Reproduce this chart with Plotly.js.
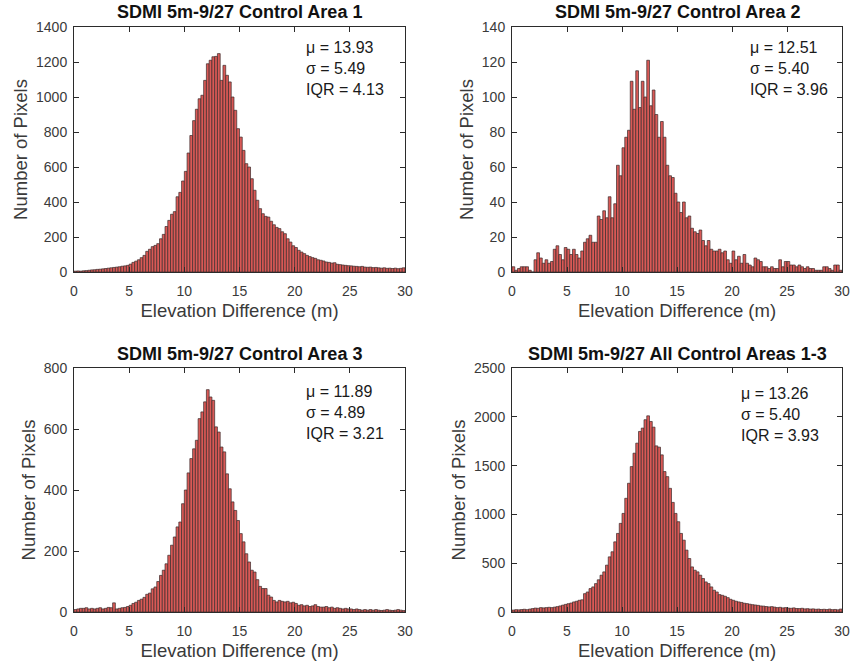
<!DOCTYPE html>
<html>
<head>
<meta charset="utf-8">
<script src="https://cdn.plot.ly/plotly-3.0.1.min.js"></script>
<style>html,body{margin:0;padding:0;background:#fff;}#chart{width:855px;height:665px;}</style>
</head>
<body>
<div id="chart"></div>
<script>
// Histogram bins: 120 bins of width 0.25 m covering 0..30 m
const BIN_START = 0;
const BIN_WIDTH = 0.25;

const area1Counts = [
  5,6,5,7,8,10,12,13,15,16,
  18,20,22,24,26,28,30,33,35,38,
  45,55,62,70,82,95,118,130,145,152,
  162,190,215,260,295,330,345,430,455,520,
  575,680,780,865,930,990,1010,1095,1190,1210,
  1230,1232,1248,1095,1181,1124,1086,1000,924,819,
  771,695,619,600,533,467,410,362,333,318,
  314,290,270,255,248,230,219,190,171,150,
  140,124,114,105,95,88,82,78,70,67,
  63,57,55,51,53,44,42,40,38,36,
  35,33,32,30,32,28,27,28,25,26,
  24,22,24,21,22,20,22,19,21,24
];

const area2Counts = [
  3,1,2,3,3,3,1,0,7,11,
  8,5,7,5,6,13,15,10,7,14,
  13,10,13,10,8,12,17,19,21,17,
  17,32,30,35,31,43,31,39,61,55,
  71,77,81,109,93,115,94,109,100,121,
  95,104,90,77,86,77,61,55,54,45,
  40,34,40,31,32,25,23,22,24,18,
  15,18,13,12,12,13,11,12,7,5,
  12,7,9,5,10,5,4,3,8,7,
  6,3,3,2,3,2,2,7,3,6,
  6,4,4,3,4,3,2,3,2,2,
  1,1,1,3,3,2,1,4,4,1
];

const area3Counts = [
  8,10,12,12,14,10,12,10,12,14,
  10,12,15,14,30,10,12,14,15,18,
  22,28,32,38,42,48,58,62,76,82,
  100,120,137,158,186,219,246,279,295,355,
  400,456,503,535,563,634,656,689,729,705,
  694,607,590,541,525,453,404,361,333,300,
  257,230,191,164,137,131,106,84,77,77,
  55,49,38,33,38,35,33,35,30,32,
  28,22,24,20,22,18,20,24,18,16,
  16,18,14,16,12,14,12,10,12,10,
  10,8,10,8,6,8,6,8,6,8,
  6,5,6,8,6,5,6,8,6,5
];

const areaAllCounts = [
  20,24,22,25,28,24,30,35,40,38,
  45,42,45,48,45,50,55,62,70,78,
  85,92,103,110,120,125,188,205,240,257,
  291,330,377,411,480,565,617,719,805,908,
  1010,1165,1319,1490,1627,1730,1850,1884,1970,2010,
  1952,1894,1702,1689,1610,1439,1387,1267,1123,1010,
  925,805,736,634,548,462,428,411,377,343,
  308,291,257,223,205,178,171,161,147,130,
  120,110,103,98,90,86,80,75,72,68,
  62,60,56,52,55,50,45,48,42,45,
  40,38,42,36,35,38,32,34,30,32,
  28,30,26,28,25,30,24,26,22,30
];

const panelTitles = [
  'SDMI 5m-9/27 Control Area 1',
  'SDMI 5m-9/27 Control Area 2',
  'SDMI 5m-9/27 Control Area 3',
  'SDMI 5m-9/27 All Control Areas 1-3'
];
const statMean  = ['13.93', '12.51', '11.89', '13.26'];
const statSigma = ['5.49', '5.40', '4.89', '5.40'];
const statIQR   = ['4.13', '3.96', '3.21', '3.93'];

const xTickVals = [0, 5, 10, 15, 20, 25, 30];
const yTicks1 = [0, 200, 400, 600, 800, 1000, 1200, 1400];
const yTicks2 = [0, 20, 40, 60, 80, 100, 120, 140];
const yTicks3 = [0, 200, 400, 600, 800];
const yTicks4 = [0, 500, 1000, 1500, 2000, 2500];
const yRanges = [[0, 1400], [0, 140], [0, 800], [0, 2500]];

const xLabel = 'Elevation Difference (m)';
const yLabel = 'Number of Pixels';

const FONT = 'Liberation Sans, Arial, Helvetica, sans-serif';
const INK = '#2b2b2b';
const TICKINK = '#3a3a3a';

const countsList = [area1Counts, area2Counts, area3Counts, areaAllCounts];
const yTicksList = [yTicks1, yTicks2, yTicks3, yTicks4];

// Panel placement (paper fractions)
const W = 855, H = 665;
const xDomains = [[74 / W, 405 / W], [512 / W, 842 / W], [74 / W, 405 / W], [512 / W, 842 / W]];
const yDomains = [[1 - 272 / H, 1 - 27 / H], [1 - 272 / H, 1 - 27 / H], [1 - 612 / H, 1 - 368 / H], [1 - 612 / H, 1 - 368 / H]];
const statsPos = [[304, 37], [748, 37], [304, 381], [739, 383]];
const titleY = [12, 12, 354, 354];

const traces = [];
const layout = {
  width: W, height: H,
  margin: {l: 0, r: 0, t: 0, b: 0},
  paper_bgcolor: '#ffffff',
  plot_bgcolor: '#ffffff',
  showlegend: false,
  bargap: 0,
  font: {family: FONT, color: INK},
  annotations: []
};

countsList.forEach((counts, i) => {
  const n = i + 1;
  const xa = n === 1 ? 'x' : 'x' + n;
  const ya = n === 1 ? 'y' : 'y' + n;
  traces.push({
    type: 'bar',
    x0: BIN_START + BIN_WIDTH / 2,
    dx: BIN_WIDTH,
    y: counts,
    xaxis: xa, yaxis: ya,
    marker: {color: '#d95956', line: {color: '#3b2b2b', width: 0.7}},
    hoverinfo: 'x+y'
  });
  const axCommon = {
    showline: true, mirror: 'ticks', linecolor: INK, linewidth: 1,
    ticks: 'inside', ticklen: 5, tickcolor: INK, tickwidth: 1,
    showgrid: false, zeroline: false,
    tickfont: {family: FONT, size: 14, color: TICKINK},
    automargin: false, fixedrange: true
  };
  layout['xaxis' + (n === 1 ? '' : n)] = Object.assign({}, axCommon, {
    domain: xDomains[i],
    anchor: ya,
    range: [0, 30],
    tickmode: 'array', tickvals: xTickVals,
    ticklabelstandoff: 6,
    title: {text: xLabel, font: {family: FONT, size: 18.5, color: TICKINK}, standoff: 6}
  });
  layout['yaxis' + (n === 1 ? '' : n)] = Object.assign({}, axCommon, {
    domain: yDomains[i],
    anchor: xa,
    range: yRanges[i],
    tickmode: 'array', tickvals: yTicksList[i],
    ticklabelstandoff: 3,
    title: {text: yLabel, font: {family: FONT, size: 18.5, color: TICKINK}, standoff: 3}
  });
  const xd = xDomains[i];
  layout.annotations.push({
    xref: 'paper', yref: 'paper',
    x: (xd[0] + xd[1]) / 2, y: 1 - titleY[i] / H,
    xanchor: 'center', yanchor: 'middle',
    text: '<b>' + panelTitles[i] + '</b>',
    showarrow: false,
    font: {family: FONT, size: 18, color: '#111'}
  });
  layout.annotations.push({
    xref: 'paper', yref: 'paper',
    x: statsPos[i][0] / W, y: 1 - statsPos[i][1] / H,
    xanchor: 'left', yanchor: 'top', align: 'left',
    text: '\u03bc = ' + statMean[i] + '<br>\u03c3 = ' + statSigma[i] + '<br>IQR = ' + statIQR[i],
    showarrow: false,
    font: {family: FONT, size: 16, color: '#1a1a1a'}
  });
});

Plotly.newPlot('chart', traces, layout, {displayModeBar: false, staticPlot: true});
</script>
</body>
</html>
